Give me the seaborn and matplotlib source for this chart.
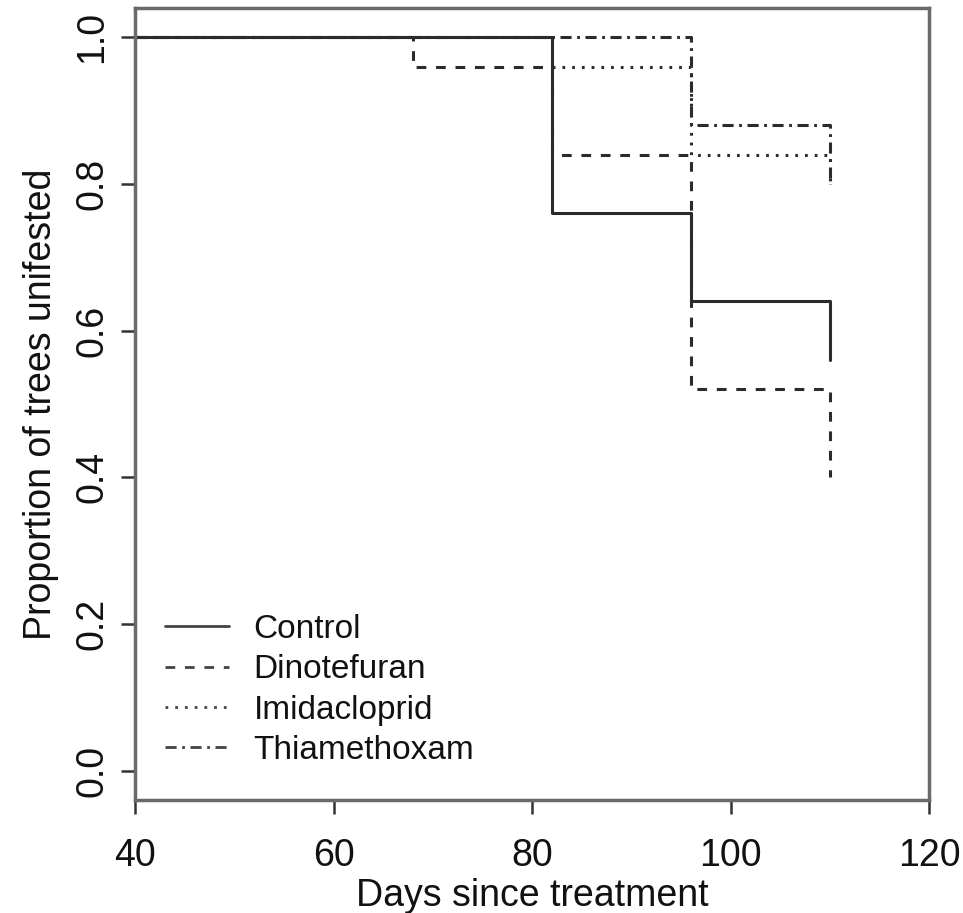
import matplotlib
matplotlib.use("Agg")
import matplotlib.pyplot as plt
import seaborn as sns
import pandas as pd

# ---- data (Kaplan-Meier style step curves) ----
treatments = ["Control", "Dinotefuran", "Imidacloprid", "Thiamethoxam"]
control_days = [40, 82, 96, 110]
control_prop = [1.00, 0.76, 0.64, 0.56]
dinotefuran_days = [40, 68, 82, 96, 110]
dinotefuran_prop = [1.00, 0.96, 0.84, 0.52, 0.40]
imidacloprid_days = [40, 82, 96, 110]
imidacloprid_prop = [1.00, 0.96, 0.84, 0.80]
thiamethoxam_days = [40, 96, 110]
thiamethoxam_prop = [1.00, 0.88, 0.80]
x_ticks = [40, 60, 80, 100, 120]
y_ticks = [0.0, 0.2, 0.4, 0.6, 0.8, 1.0]
y_tick_labels = ["0.0", "0.2", "0.4", "0.6", "0.8", "1.0"]

rows = []
for name, d, p in [("Control", control_days, control_prop),
                   ("Dinotefuran", dinotefuran_days, dinotefuran_prop),
                   ("Imidacloprid", imidacloprid_days, imidacloprid_prop),
                   ("Thiamethoxam", thiamethoxam_days, thiamethoxam_prop)]:
    for x, y in zip(d, p):
        rows.append({"Treatment": name, "Days": x, "Prop": y})
df = pd.DataFrame(rows)

sns.set_style("white")
plt.rcParams["font.family"] = ["Liberation Sans", "DejaVu Sans"]
plt.rcParams["lines.scale_dashes"] = False

fig = plt.figure(figsize=(9.63, 9.13), dpi=100)
ax = fig.add_axes([135 / 963, 1 - 800 / 913, (929 - 135) / 963, (800 - 8) / 913])

dash_map = {
    "Control": "",
    "Dinotefuran": (7, 7),
    "Imidacloprid": (2, 5),
    "Thiamethoxam": (8, 4, 2, 4),
}
sns.lineplot(data=df, x="Days", y="Prop", style="Treatment", units="Treatment",
             estimator=None, sort=False, dashes=dash_map, style_order=treatments,
             color="#2b2b2b", linewidth=2.2, drawstyle="steps-post", ax=ax)

ax.set_xlim(40, 120)
ax.set_ylim(-0.04, 1.04)
ax.set_xticks(x_ticks)
ax.set_yticks(y_ticks)
ax.set_yticklabels(y_tick_labels, rotation=90, va="center")

for s in ax.spines.values():
    s.set_visible(True)
    s.set_color("#6a6a6a")
    s.set_linewidth(2.5)

ax.tick_params(axis="both", direction="out", length=10, width=1.8,
               color="#333333", labelsize=27, labelcolor="#111111",
               bottom=True, left=True, top=False, right=False)
ax.tick_params(axis="x", pad=17)
ax.tick_params(axis="y", pad=8)

ax.set_xlabel("Days since treatment", fontsize=27, color="#111111", labelpad=3)
ax.set_ylabel("Proportion of trees unifested", fontsize=27, color="#111111", labelpad=11)

leg = ax.get_legend()
handles = leg.legend_handles
labels = [t.get_text() for t in leg.get_texts()]
leg.remove()
for h in handles:
    h.set_color("#444444")
    h.set_linewidth(2.0)
ax.legend(handles, labels, loc="lower left", bbox_to_anchor=(0.038, 0.043),
          frameon=False, fontsize=24, handlelength=1.9, handletextpad=0.75,
          labelspacing=0.28, borderpad=0.0, borderaxespad=0.0, labelcolor="#111111")

fig.savefig("out.png", dpi=100)
